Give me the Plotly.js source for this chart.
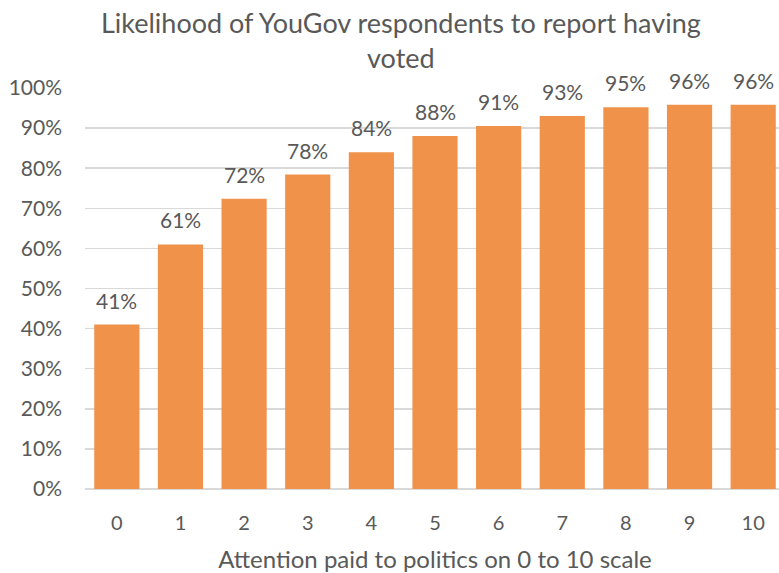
<!DOCTYPE html>
<html>
<head>
<meta charset="utf-8">
<script src="https://cdn.plot.ly/plotly-3.0.1.min.js"></script>
<style>html,body{margin:0;padding:0;overflow:hidden;background:#fff;}</style>
</head>
<body>
<div id="chart"></div>
<script>
var categories = ['0','1','2','3','4','5','6','7','8','9','10'];
var values = [0.41, 0.61, 0.724, 0.784, 0.84, 0.88, 0.905, 0.93, 0.952, 0.958, 0.958];
var yTicks = [0,0.1,0.2,0.3,0.4,0.5,0.6,0.7,0.8,0.9,1.0];
var yTickLabels = ['0%','10%','20%','30%','40%','50%','60%','70%','80%','90%','100%'];

var font = 'Lato, "Open Sans", sans-serif';
var txt = '#595959';

var labels = categories.map(function (c, i) {
  return {
    x: c, y: values[i], xref: 'x', yref: 'y',
    text: Math.round(values[i] * 100) + '%',
    showarrow: false, yanchor: 'bottom', yshift: 10,
    font: {family: font, size: 21, color: txt}
  };
});

Plotly.newPlot('chart', [{
  type: 'bar',
  x: categories,
  y: values,
  marker: {color: '#F0924A'},
  hoverinfo: 'none'
}], {
  width: 786, height: 573,
  margin: {l: 85, r: 1, t: 88, b: 84},
  paper_bgcolor: '#fff', plot_bgcolor: '#fff',
  bargap: 0.29,
  showlegend: false,
  annotations: labels,
  title: {
    text: 'Likelihood of YouGov respondents to report having<br>voted',
    font: {family: font, size: 27, color: txt},
    x: 0.51, xref: 'container', xanchor: 'center',
    y: 0.943, yref: 'container', yanchor: 'top'
  },
  xaxis: {
    type: 'category',
    tickfont: {family: font, size: 20, color: txt},
    ticks: '', ticklabelstandoff: 20,
    showgrid: false, zeroline: false,
    showline: false,
    title: {text: 'Attention paid to politics on 0 to 10 scale', font: {family: font, size: 24, color: txt}, standoff: 20}
  },
  yaxis: {
    range: [0, 1],
    tickvals: yTicks, ticktext: yTickLabels,
    tickfont: {family: font, size: 21, color: txt},
    ticks: '', ticklabelstandoff: 22,
    showgrid: true, gridcolor: '#D9D9D9', gridwidth: 1.5,
    zeroline: true, zerolinecolor: '#D9D9D9', zerolinewidth: 1.5,
    showline: false
  }
}, {displayModeBar: false, staticPlot: true});
</script>
</body>
</html>
